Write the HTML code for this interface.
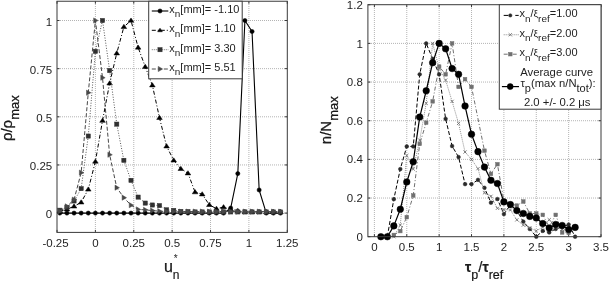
<!DOCTYPE html>
<html><head><meta charset="utf-8"><title>plots</title>
<style>
html,body{margin:0;padding:0;background:#fff;}
body{width:609px;height:281px;overflow:hidden;}
svg{display:block;font-family:"Liberation Sans", sans-serif;will-change:transform;}
text{fill:#1e1e1e;}
</style></head>
<body>
<svg width="609" height="281" viewBox="0 0 609 281">
<rect x="0" y="0" width="609" height="281" fill="#fff"/>
<line x1="95.4" y1="1.24" x2="95.4" y2="232.4" stroke="#b4b4b4" stroke-width="1" stroke-dasharray="1 1" stroke-dashoffset="1.24"/>
<line x1="133.78" y1="1.24" x2="133.78" y2="232.4" stroke="#b4b4b4" stroke-width="1" stroke-dasharray="1 1" stroke-dashoffset="1.24"/>
<line x1="172.15" y1="1.24" x2="172.15" y2="232.4" stroke="#b4b4b4" stroke-width="1" stroke-dasharray="1 1" stroke-dashoffset="1.24"/>
<line x1="210.53" y1="1.24" x2="210.53" y2="232.4" stroke="#b4b4b4" stroke-width="1" stroke-dasharray="1 1" stroke-dashoffset="1.24"/>
<line x1="248.9" y1="1.24" x2="248.9" y2="232.4" stroke="#b4b4b4" stroke-width="1" stroke-dasharray="1 1" stroke-dashoffset="1.24"/>
<line x1="57" y1="213.1" x2="287.3" y2="213.1" stroke="#b4b4b4" stroke-width="1" stroke-dasharray="1 1" stroke-dashoffset="1"/>
<line x1="57" y1="164.95" x2="287.3" y2="164.95" stroke="#b4b4b4" stroke-width="1" stroke-dasharray="1 1" stroke-dashoffset="1"/>
<line x1="57" y1="116.8" x2="287.3" y2="116.8" stroke="#b4b4b4" stroke-width="1" stroke-dasharray="1 1" stroke-dashoffset="1"/>
<line x1="57" y1="68.65" x2="287.3" y2="68.65" stroke="#b4b4b4" stroke-width="1" stroke-dasharray="1 1" stroke-dashoffset="1"/>
<line x1="57" y1="20.5" x2="287.3" y2="20.5" stroke="#b4b4b4" stroke-width="1" stroke-dasharray="1 1" stroke-dashoffset="1"/>
<line x1="57.03" y1="232.4" x2="57.03" y2="229.9" stroke="#3a3a3a" stroke-width="1"/>
<line x1="57.03" y1="1.24" x2="57.03" y2="3.74" stroke="#3a3a3a" stroke-width="1"/>
<line x1="95.4" y1="232.4" x2="95.4" y2="229.9" stroke="#3a3a3a" stroke-width="1"/>
<line x1="95.4" y1="1.24" x2="95.4" y2="3.74" stroke="#3a3a3a" stroke-width="1"/>
<line x1="133.78" y1="232.4" x2="133.78" y2="229.9" stroke="#3a3a3a" stroke-width="1"/>
<line x1="133.78" y1="1.24" x2="133.78" y2="3.74" stroke="#3a3a3a" stroke-width="1"/>
<line x1="172.15" y1="232.4" x2="172.15" y2="229.9" stroke="#3a3a3a" stroke-width="1"/>
<line x1="172.15" y1="1.24" x2="172.15" y2="3.74" stroke="#3a3a3a" stroke-width="1"/>
<line x1="210.53" y1="232.4" x2="210.53" y2="229.9" stroke="#3a3a3a" stroke-width="1"/>
<line x1="210.53" y1="1.24" x2="210.53" y2="3.74" stroke="#3a3a3a" stroke-width="1"/>
<line x1="248.9" y1="232.4" x2="248.9" y2="229.9" stroke="#3a3a3a" stroke-width="1"/>
<line x1="248.9" y1="1.24" x2="248.9" y2="3.74" stroke="#3a3a3a" stroke-width="1"/>
<line x1="287.27" y1="232.4" x2="287.27" y2="229.9" stroke="#3a3a3a" stroke-width="1"/>
<line x1="287.27" y1="1.24" x2="287.27" y2="3.74" stroke="#3a3a3a" stroke-width="1"/>
<line x1="57" y1="213.1" x2="59.5" y2="213.1" stroke="#3a3a3a" stroke-width="1"/>
<line x1="287.3" y1="213.1" x2="284.8" y2="213.1" stroke="#3a3a3a" stroke-width="1"/>
<line x1="57" y1="164.95" x2="59.5" y2="164.95" stroke="#3a3a3a" stroke-width="1"/>
<line x1="287.3" y1="164.95" x2="284.8" y2="164.95" stroke="#3a3a3a" stroke-width="1"/>
<line x1="57" y1="116.8" x2="59.5" y2="116.8" stroke="#3a3a3a" stroke-width="1"/>
<line x1="287.3" y1="116.8" x2="284.8" y2="116.8" stroke="#3a3a3a" stroke-width="1"/>
<line x1="57" y1="68.65" x2="59.5" y2="68.65" stroke="#3a3a3a" stroke-width="1"/>
<line x1="287.3" y1="68.65" x2="284.8" y2="68.65" stroke="#3a3a3a" stroke-width="1"/>
<line x1="57" y1="20.5" x2="59.5" y2="20.5" stroke="#3a3a3a" stroke-width="1"/>
<line x1="287.3" y1="20.5" x2="284.8" y2="20.5" stroke="#3a3a3a" stroke-width="1"/>
<text x="55.53" y="246.9" text-anchor="middle" font-size="11.5">-0.25</text>
<text x="95.4" y="246.9" text-anchor="middle" font-size="11.5">0</text>
<text x="133.78" y="246.9" text-anchor="middle" font-size="11.5">0.25</text>
<text x="172.15" y="246.9" text-anchor="middle" font-size="11.5">0.5</text>
<text x="210.53" y="246.9" text-anchor="middle" font-size="11.5">0.75</text>
<text x="248.9" y="246.9" text-anchor="middle" font-size="11.5">1</text>
<text x="287.27" y="246.9" text-anchor="middle" font-size="11.5">1.25</text>
<text x="52.2" y="218.3" text-anchor="end" font-size="11.5">0</text>
<text x="52.2" y="170.15" text-anchor="end" font-size="11.5">0.25</text>
<text x="52.2" y="122" text-anchor="end" font-size="11.5">0.5</text>
<text x="52.2" y="73.85" text-anchor="end" font-size="11.5">0.75</text>
<text x="52.2" y="25.7" text-anchor="end" font-size="11.5">1</text>
<polyline points="59.8,213.1 66.92,213.1 74.04,213.1 81.16,213.1 88.28,213.1 95.4,213.1 102.52,213.1 109.64,213.1 116.76,213.1 123.88,213.1 131,213.1 138.12,213.1 145.24,213.1 152.36,213.1 159.48,213.1 166.6,213.1 173.72,213.1 180.84,213.1 187.96,213.1 195.08,213.1 202.2,213.1 209.32,213.1 216.44,213.1 223.56,213.1 230.68,208.09 237.8,173.62 244.92,20.5 252.04,31.48 259.16,189.99 266.28,213.1 273.4,213.1 280.52,213.1" fill="none" stroke="#000" stroke-width="1.1" stroke-linejoin="round"/>
<circle cx="59.8" cy="213.1" r="2.1" fill="#000" stroke="#000" stroke-width="0.5"/>
<circle cx="66.92" cy="213.1" r="2.1" fill="#000" stroke="#000" stroke-width="0.5"/>
<circle cx="74.04" cy="213.1" r="2.1" fill="#000" stroke="#000" stroke-width="0.5"/>
<circle cx="81.16" cy="213.1" r="2.1" fill="#000" stroke="#000" stroke-width="0.5"/>
<circle cx="88.28" cy="213.1" r="2.1" fill="#000" stroke="#000" stroke-width="0.5"/>
<circle cx="95.4" cy="213.1" r="2.1" fill="#000" stroke="#000" stroke-width="0.5"/>
<circle cx="102.52" cy="213.1" r="2.1" fill="#000" stroke="#000" stroke-width="0.5"/>
<circle cx="109.64" cy="213.1" r="2.1" fill="#000" stroke="#000" stroke-width="0.5"/>
<circle cx="116.76" cy="213.1" r="2.1" fill="#000" stroke="#000" stroke-width="0.5"/>
<circle cx="123.88" cy="213.1" r="2.1" fill="#000" stroke="#000" stroke-width="0.5"/>
<circle cx="131" cy="213.1" r="2.1" fill="#000" stroke="#000" stroke-width="0.5"/>
<circle cx="138.12" cy="213.1" r="2.1" fill="#000" stroke="#000" stroke-width="0.5"/>
<circle cx="145.24" cy="213.1" r="2.1" fill="#000" stroke="#000" stroke-width="0.5"/>
<circle cx="152.36" cy="213.1" r="2.1" fill="#000" stroke="#000" stroke-width="0.5"/>
<circle cx="159.48" cy="213.1" r="2.1" fill="#000" stroke="#000" stroke-width="0.5"/>
<circle cx="166.6" cy="213.1" r="2.1" fill="#000" stroke="#000" stroke-width="0.5"/>
<circle cx="173.72" cy="213.1" r="2.1" fill="#000" stroke="#000" stroke-width="0.5"/>
<circle cx="180.84" cy="213.1" r="2.1" fill="#000" stroke="#000" stroke-width="0.5"/>
<circle cx="187.96" cy="213.1" r="2.1" fill="#000" stroke="#000" stroke-width="0.5"/>
<circle cx="195.08" cy="213.1" r="2.1" fill="#000" stroke="#000" stroke-width="0.5"/>
<circle cx="202.2" cy="213.1" r="2.1" fill="#000" stroke="#000" stroke-width="0.5"/>
<circle cx="209.32" cy="213.1" r="2.1" fill="#000" stroke="#000" stroke-width="0.5"/>
<circle cx="216.44" cy="213.1" r="2.1" fill="#000" stroke="#000" stroke-width="0.5"/>
<circle cx="223.56" cy="213.1" r="2.1" fill="#000" stroke="#000" stroke-width="0.5"/>
<circle cx="230.68" cy="208.09" r="2.1" fill="#000" stroke="#000" stroke-width="0.5"/>
<circle cx="237.8" cy="173.62" r="2.1" fill="#000" stroke="#000" stroke-width="0.5"/>
<circle cx="244.92" cy="20.5" r="2.1" fill="#000" stroke="#000" stroke-width="0.5"/>
<circle cx="252.04" cy="31.48" r="2.1" fill="#000" stroke="#000" stroke-width="0.5"/>
<circle cx="259.16" cy="189.99" r="2.1" fill="#000" stroke="#000" stroke-width="0.5"/>
<circle cx="266.28" cy="213.1" r="2.1" fill="#000" stroke="#000" stroke-width="0.5"/>
<circle cx="273.4" cy="213.1" r="2.1" fill="#000" stroke="#000" stroke-width="0.5"/>
<circle cx="280.52" cy="213.1" r="2.1" fill="#000" stroke="#000" stroke-width="0.5"/>
<polyline points="59.8,211.17 66.92,209.25 74.04,206.36 81.16,202.31 88.28,189.41 95.4,161.48 102.52,120.65 109.64,83.29 116.76,53.24 123.88,26.86 131,20.5 138.12,47.46 145.24,66.72 152.36,85.21 159.48,117.76 166.6,146.27 173.72,160.33 180.84,168.8 187.96,173.23 195.08,192.11 202.2,194.23 209.32,204.82 216.44,208.67 223.56,207.13 230.68,209.25 237.8,210.79 244.92,211.94 252.04,211.94 259.16,211.94 266.28,211.94 273.4,211.94 280.52,211.94" fill="none" stroke="#000" stroke-width="1" stroke-dasharray="4 2 1 2" stroke-linejoin="round"/>
<path d="M59.8,208.65L62.6,212.85L57,212.85Z" fill="#000" stroke="#000" stroke-width="0.5"/>
<path d="M66.92,206.73L69.72,210.93L64.12,210.93Z" fill="#000" stroke="#000" stroke-width="0.5"/>
<path d="M74.04,203.84L76.84,208.04L71.24,208.04Z" fill="#000" stroke="#000" stroke-width="0.5"/>
<path d="M81.16,199.79L83.96,203.99L78.36,203.99Z" fill="#000" stroke="#000" stroke-width="0.5"/>
<path d="M88.28,186.89L91.08,191.09L85.48,191.09Z" fill="#000" stroke="#000" stroke-width="0.5"/>
<path d="M95.4,158.96L98.2,163.16L92.6,163.16Z" fill="#000" stroke="#000" stroke-width="0.5"/>
<path d="M102.52,118.13L105.32,122.33L99.72,122.33Z" fill="#000" stroke="#000" stroke-width="0.5"/>
<path d="M109.64,80.77L112.44,84.97L106.84,84.97Z" fill="#000" stroke="#000" stroke-width="0.5"/>
<path d="M116.76,50.72L119.56,54.92L113.96,54.92Z" fill="#000" stroke="#000" stroke-width="0.5"/>
<path d="M123.88,24.34L126.68,28.54L121.08,28.54Z" fill="#000" stroke="#000" stroke-width="0.5"/>
<path d="M131,17.98L133.8,22.18L128.2,22.18Z" fill="#000" stroke="#000" stroke-width="0.5"/>
<path d="M138.12,44.94L140.92,49.14L135.32,49.14Z" fill="#000" stroke="#000" stroke-width="0.5"/>
<path d="M145.24,64.2L148.04,68.4L142.44,68.4Z" fill="#000" stroke="#000" stroke-width="0.5"/>
<path d="M152.36,82.69L155.16,86.89L149.56,86.89Z" fill="#000" stroke="#000" stroke-width="0.5"/>
<path d="M159.48,115.24L162.28,119.44L156.68,119.44Z" fill="#000" stroke="#000" stroke-width="0.5"/>
<path d="M166.6,143.75L169.4,147.95L163.8,147.95Z" fill="#000" stroke="#000" stroke-width="0.5"/>
<path d="M173.72,157.81L176.52,162.01L170.92,162.01Z" fill="#000" stroke="#000" stroke-width="0.5"/>
<path d="M180.84,166.28L183.64,170.48L178.04,170.48Z" fill="#000" stroke="#000" stroke-width="0.5"/>
<path d="M187.96,170.71L190.76,174.91L185.16,174.91Z" fill="#000" stroke="#000" stroke-width="0.5"/>
<path d="M195.08,189.59L197.88,193.79L192.28,193.79Z" fill="#000" stroke="#000" stroke-width="0.5"/>
<path d="M202.2,191.71L205,195.91L199.4,195.91Z" fill="#000" stroke="#000" stroke-width="0.5"/>
<path d="M209.32,202.3L212.12,206.5L206.52,206.5Z" fill="#000" stroke="#000" stroke-width="0.5"/>
<path d="M216.44,206.15L219.24,210.35L213.64,210.35Z" fill="#000" stroke="#000" stroke-width="0.5"/>
<path d="M223.56,204.61L226.36,208.81L220.76,208.81Z" fill="#000" stroke="#000" stroke-width="0.5"/>
<path d="M230.68,206.73L233.48,210.93L227.88,210.93Z" fill="#000" stroke="#000" stroke-width="0.5"/>
<path d="M237.8,208.27L240.6,212.47L235,212.47Z" fill="#000" stroke="#000" stroke-width="0.5"/>
<path d="M244.92,209.42L247.72,213.62L242.12,213.62Z" fill="#000" stroke="#000" stroke-width="0.5"/>
<path d="M252.04,209.42L254.84,213.62L249.24,213.62Z" fill="#000" stroke="#000" stroke-width="0.5"/>
<path d="M259.16,209.42L261.96,213.62L256.36,213.62Z" fill="#000" stroke="#000" stroke-width="0.5"/>
<path d="M266.28,209.42L269.08,213.62L263.48,213.62Z" fill="#000" stroke="#000" stroke-width="0.5"/>
<path d="M273.4,209.42L276.2,213.62L270.6,213.62Z" fill="#000" stroke="#000" stroke-width="0.5"/>
<path d="M280.52,209.42L283.32,213.62L277.72,213.62Z" fill="#000" stroke="#000" stroke-width="0.5"/>
<polyline points="59.8,210.21 66.92,207.32 74.04,200.97 81.16,188.64 88.28,136.06 95.4,51.32 102.52,20.5 109.64,70.58 116.76,124.12 123.88,160.33 131,180.36 138.12,197.11 145.24,203.08 152.36,205.01 159.48,205.59 166.6,209.83 173.72,210.4 180.84,211.37 187.96,211.56 195.08,211.94 202.2,211.94 209.32,211.94 216.44,211.94 223.56,211.94 230.68,211.94 237.8,211.94 244.92,211.94 252.04,211.94 259.16,211.94 266.28,211.94 273.4,211.94 280.52,211.94" fill="none" stroke="#555" stroke-width="1" stroke-dasharray="1 1.6" stroke-linejoin="round"/>
<rect x="57.7" y="208.11" width="4.2" height="4.2" fill="#303030" stroke="#303030" stroke-width="0.5"/>
<rect x="64.82" y="205.22" width="4.2" height="4.2" fill="#303030" stroke="#303030" stroke-width="0.5"/>
<rect x="71.94" y="198.87" width="4.2" height="4.2" fill="#303030" stroke="#303030" stroke-width="0.5"/>
<rect x="79.06" y="186.54" width="4.2" height="4.2" fill="#303030" stroke="#303030" stroke-width="0.5"/>
<rect x="86.18" y="133.96" width="4.2" height="4.2" fill="#303030" stroke="#303030" stroke-width="0.5"/>
<rect x="93.3" y="49.22" width="4.2" height="4.2" fill="#303030" stroke="#303030" stroke-width="0.5"/>
<rect x="100.42" y="18.4" width="4.2" height="4.2" fill="#303030" stroke="#303030" stroke-width="0.5"/>
<rect x="107.54" y="68.48" width="4.2" height="4.2" fill="#303030" stroke="#303030" stroke-width="0.5"/>
<rect x="114.66" y="122.02" width="4.2" height="4.2" fill="#303030" stroke="#303030" stroke-width="0.5"/>
<rect x="121.78" y="158.23" width="4.2" height="4.2" fill="#303030" stroke="#303030" stroke-width="0.5"/>
<rect x="128.9" y="178.26" width="4.2" height="4.2" fill="#303030" stroke="#303030" stroke-width="0.5"/>
<rect x="136.02" y="195.01" width="4.2" height="4.2" fill="#303030" stroke="#303030" stroke-width="0.5"/>
<rect x="143.14" y="200.98" width="4.2" height="4.2" fill="#303030" stroke="#303030" stroke-width="0.5"/>
<rect x="150.26" y="202.91" width="4.2" height="4.2" fill="#303030" stroke="#303030" stroke-width="0.5"/>
<rect x="157.38" y="203.49" width="4.2" height="4.2" fill="#303030" stroke="#303030" stroke-width="0.5"/>
<rect x="164.5" y="207.73" width="4.2" height="4.2" fill="#303030" stroke="#303030" stroke-width="0.5"/>
<rect x="171.62" y="208.3" width="4.2" height="4.2" fill="#303030" stroke="#303030" stroke-width="0.5"/>
<rect x="178.74" y="209.27" width="4.2" height="4.2" fill="#303030" stroke="#303030" stroke-width="0.5"/>
<rect x="185.86" y="209.46" width="4.2" height="4.2" fill="#303030" stroke="#303030" stroke-width="0.5"/>
<rect x="192.98" y="209.84" width="4.2" height="4.2" fill="#303030" stroke="#303030" stroke-width="0.5"/>
<rect x="200.1" y="209.84" width="4.2" height="4.2" fill="#303030" stroke="#303030" stroke-width="0.5"/>
<rect x="207.22" y="209.84" width="4.2" height="4.2" fill="#303030" stroke="#303030" stroke-width="0.5"/>
<rect x="214.34" y="209.84" width="4.2" height="4.2" fill="#303030" stroke="#303030" stroke-width="0.5"/>
<rect x="221.46" y="209.84" width="4.2" height="4.2" fill="#303030" stroke="#303030" stroke-width="0.5"/>
<rect x="228.58" y="209.84" width="4.2" height="4.2" fill="#303030" stroke="#303030" stroke-width="0.5"/>
<rect x="235.7" y="209.84" width="4.2" height="4.2" fill="#303030" stroke="#303030" stroke-width="0.5"/>
<rect x="242.82" y="209.84" width="4.2" height="4.2" fill="#303030" stroke="#303030" stroke-width="0.5"/>
<rect x="249.94" y="209.84" width="4.2" height="4.2" fill="#303030" stroke="#303030" stroke-width="0.5"/>
<rect x="257.06" y="209.84" width="4.2" height="4.2" fill="#303030" stroke="#303030" stroke-width="0.5"/>
<rect x="264.18" y="209.84" width="4.2" height="4.2" fill="#303030" stroke="#303030" stroke-width="0.5"/>
<rect x="271.3" y="209.84" width="4.2" height="4.2" fill="#303030" stroke="#303030" stroke-width="0.5"/>
<rect x="278.42" y="209.84" width="4.2" height="4.2" fill="#303030" stroke="#303030" stroke-width="0.5"/>
<polyline points="59.8,211.17 66.92,206.36 74.04,199.62 81.16,172.65 88.28,92.72 95.4,20.5 102.52,77.7 109.64,154.74 116.76,187.68 123.88,197.69 131,205.2 138.12,209.44 145.24,209.83 152.36,210.6 159.48,211.17 166.6,211.56 173.72,211.56 180.84,211.56 187.96,211.56 195.08,211.56 202.2,211.56 209.32,211.56 216.44,211.56 223.56,211.56 230.68,211.56 237.8,211.56 244.92,211.56 252.04,211.56 259.16,211.56 266.28,211.56 273.4,211.56 280.52,211.56" fill="none" stroke="#484848" stroke-width="1" stroke-dasharray="4 2" stroke-linejoin="round"/>
<path d="M62.45,211.17L58.03,208.57L58.03,213.77Z" fill="#484848" stroke="#484848" stroke-width="0.5"/>
<path d="M69.57,206.36L65.15,203.76L65.15,208.96Z" fill="#484848" stroke="#484848" stroke-width="0.5"/>
<path d="M76.69,199.62L72.27,197.02L72.27,202.22Z" fill="#484848" stroke="#484848" stroke-width="0.5"/>
<path d="M83.81,172.65L79.39,170.05L79.39,175.25Z" fill="#484848" stroke="#484848" stroke-width="0.5"/>
<path d="M90.93,92.72L86.51,90.12L86.51,95.32Z" fill="#484848" stroke="#484848" stroke-width="0.5"/>
<path d="M98.05,20.5L93.63,17.9L93.63,23.1Z" fill="#484848" stroke="#484848" stroke-width="0.5"/>
<path d="M105.17,77.7L100.75,75.1L100.75,80.3Z" fill="#484848" stroke="#484848" stroke-width="0.5"/>
<path d="M112.29,154.74L107.87,152.14L107.87,157.34Z" fill="#484848" stroke="#484848" stroke-width="0.5"/>
<path d="M119.41,187.68L114.99,185.08L114.99,190.28Z" fill="#484848" stroke="#484848" stroke-width="0.5"/>
<path d="M126.53,197.69L122.11,195.09L122.11,200.29Z" fill="#484848" stroke="#484848" stroke-width="0.5"/>
<path d="M133.65,205.2L129.23,202.6L129.23,207.8Z" fill="#484848" stroke="#484848" stroke-width="0.5"/>
<path d="M140.77,209.44L136.35,206.84L136.35,212.04Z" fill="#484848" stroke="#484848" stroke-width="0.5"/>
<path d="M147.89,209.83L143.47,207.23L143.47,212.43Z" fill="#484848" stroke="#484848" stroke-width="0.5"/>
<path d="M155.01,210.6L150.59,208L150.59,213.2Z" fill="#484848" stroke="#484848" stroke-width="0.5"/>
<path d="M162.13,211.17L157.71,208.57L157.71,213.77Z" fill="#484848" stroke="#484848" stroke-width="0.5"/>
<path d="M169.25,211.56L164.83,208.96L164.83,214.16Z" fill="#484848" stroke="#484848" stroke-width="0.5"/>
<path d="M176.37,211.56L171.95,208.96L171.95,214.16Z" fill="#484848" stroke="#484848" stroke-width="0.5"/>
<path d="M183.49,211.56L179.07,208.96L179.07,214.16Z" fill="#484848" stroke="#484848" stroke-width="0.5"/>
<path d="M190.61,211.56L186.19,208.96L186.19,214.16Z" fill="#484848" stroke="#484848" stroke-width="0.5"/>
<path d="M197.73,211.56L193.31,208.96L193.31,214.16Z" fill="#484848" stroke="#484848" stroke-width="0.5"/>
<path d="M204.85,211.56L200.43,208.96L200.43,214.16Z" fill="#484848" stroke="#484848" stroke-width="0.5"/>
<path d="M211.97,211.56L207.55,208.96L207.55,214.16Z" fill="#484848" stroke="#484848" stroke-width="0.5"/>
<path d="M219.09,211.56L214.67,208.96L214.67,214.16Z" fill="#484848" stroke="#484848" stroke-width="0.5"/>
<path d="M226.21,211.56L221.79,208.96L221.79,214.16Z" fill="#484848" stroke="#484848" stroke-width="0.5"/>
<path d="M233.33,211.56L228.91,208.96L228.91,214.16Z" fill="#484848" stroke="#484848" stroke-width="0.5"/>
<path d="M240.45,211.56L236.03,208.96L236.03,214.16Z" fill="#484848" stroke="#484848" stroke-width="0.5"/>
<path d="M247.57,211.56L243.15,208.96L243.15,214.16Z" fill="#484848" stroke="#484848" stroke-width="0.5"/>
<path d="M254.69,211.56L250.27,208.96L250.27,214.16Z" fill="#484848" stroke="#484848" stroke-width="0.5"/>
<path d="M261.81,211.56L257.39,208.96L257.39,214.16Z" fill="#484848" stroke="#484848" stroke-width="0.5"/>
<path d="M268.93,211.56L264.51,208.96L264.51,214.16Z" fill="#484848" stroke="#484848" stroke-width="0.5"/>
<path d="M276.05,211.56L271.63,208.96L271.63,214.16Z" fill="#484848" stroke="#484848" stroke-width="0.5"/>
<path d="M283.17,211.56L278.75,208.96L278.75,214.16Z" fill="#484848" stroke="#484848" stroke-width="0.5"/>
<rect x="57" y="1.24" width="230.3" height="231.16" fill="none" stroke="#3a3a3a" stroke-width="1"/>
<rect x="148.7" y="1.24" width="93.5" height="77.56" fill="#fff" stroke="#3a3a3a" stroke-width="1"/>
<polyline points="151.8,11 168.3,11" fill="none" stroke="#000" stroke-width="1.1" stroke-linejoin="round"/>
<circle cx="160" cy="11" r="2.1" fill="#000" stroke="#000" stroke-width="0.5"/>
<g transform="translate(169.3,0) scale(1.06,1)"><text x="0" y="13.2" font-size="10.4">x<tspan font-size="9.4" dy="4.3">n</tspan><tspan dy="-4.3">[mm]= -1.10</tspan></text></g>
<polyline points="151.8,30.3 168.3,30.3" fill="none" stroke="#000" stroke-width="1" stroke-dasharray="4 2 1 2" stroke-linejoin="round"/>
<path d="M160,28.14L162.4,31.74L157.6,31.74Z" fill="#000" stroke="#000" stroke-width="0.5"/>
<g transform="translate(169.3,0) scale(1.06,1)"><text x="0" y="32.5" font-size="10.4">x<tspan font-size="9.4" dy="4.3">n</tspan><tspan dy="-4.3">[mm]= 1.10</tspan></text></g>
<polyline points="151.8,49.7 168.3,49.7" fill="none" stroke="#777" stroke-width="1" stroke-dasharray="1 1" stroke-linejoin="round"/>
<rect x="157.9" y="47.6" width="4.2" height="4.2" fill="#303030" stroke="#303030" stroke-width="0.5"/>
<g transform="translate(169.3,0) scale(1.06,1)"><text x="0" y="51.9" font-size="10.4">x<tspan font-size="9.4" dy="4.3">n</tspan><tspan dy="-4.3">[mm]= 3.30</tspan></text></g>
<polyline points="151.8,69 168.3,69" fill="none" stroke="#484848" stroke-width="1" stroke-dasharray="4 2" stroke-linejoin="round"/>
<path d="M162.65,69L158.23,66.4L158.23,71.6Z" fill="#484848" stroke="#484848" stroke-width="0.5"/>
<g transform="translate(169.3,0) scale(1.06,1)"><text x="0" y="71.2" font-size="10.4">x<tspan font-size="9.4" dy="4.3">n</tspan><tspan dy="-4.3">[mm]= 5.51</tspan></text></g>
<text transform="translate(11.8,118.2) rotate(-90)" text-anchor="middle" font-size="15" stroke="#000" stroke-width="0.25">&#961;/&#961;<tspan font-size="13" dy="7">max</tspan></text>
<text x="163.9" y="271.6" font-size="16" stroke="#000" stroke-width="0.25">u<tspan font-size="12" stroke-width="0.15" dy="7.3">n</tspan><tspan font-size="10" stroke-width="0" dx="-5.8" dy="-17">*</tspan></text>
<line x1="374.4" y1="4.7" x2="374.4" y2="236.7" stroke="#b4b4b4" stroke-width="1" stroke-dasharray="1 1" stroke-dashoffset="0.7"/>
<line x1="406.77" y1="4.7" x2="406.77" y2="236.7" stroke="#b4b4b4" stroke-width="1" stroke-dasharray="1 1" stroke-dashoffset="0.7"/>
<line x1="439.15" y1="4.7" x2="439.15" y2="236.7" stroke="#b4b4b4" stroke-width="1" stroke-dasharray="1 1" stroke-dashoffset="0.7"/>
<line x1="471.52" y1="4.7" x2="471.52" y2="236.7" stroke="#b4b4b4" stroke-width="1" stroke-dasharray="1 1" stroke-dashoffset="0.7"/>
<line x1="503.9" y1="4.7" x2="503.9" y2="236.7" stroke="#b4b4b4" stroke-width="1" stroke-dasharray="1 1" stroke-dashoffset="0.7"/>
<line x1="536.27" y1="4.7" x2="536.27" y2="236.7" stroke="#b4b4b4" stroke-width="1" stroke-dasharray="1 1" stroke-dashoffset="0.7"/>
<line x1="568.65" y1="4.7" x2="568.65" y2="236.7" stroke="#b4b4b4" stroke-width="1" stroke-dasharray="1 1" stroke-dashoffset="0.7"/>
<line x1="367.9" y1="198.04" x2="601" y2="198.04" stroke="#b4b4b4" stroke-width="1" stroke-dasharray="1 1" stroke-dashoffset="0.9"/>
<line x1="367.9" y1="159.38" x2="601" y2="159.38" stroke="#b4b4b4" stroke-width="1" stroke-dasharray="1 1" stroke-dashoffset="0.9"/>
<line x1="367.9" y1="120.72" x2="601" y2="120.72" stroke="#b4b4b4" stroke-width="1" stroke-dasharray="1 1" stroke-dashoffset="0.9"/>
<line x1="367.9" y1="82.06" x2="601" y2="82.06" stroke="#b4b4b4" stroke-width="1" stroke-dasharray="1 1" stroke-dashoffset="0.9"/>
<line x1="367.9" y1="43.4" x2="601" y2="43.4" stroke="#b4b4b4" stroke-width="1" stroke-dasharray="1 1" stroke-dashoffset="0.9"/>
<line x1="374.4" y1="236.7" x2="374.4" y2="234.2" stroke="#3a3a3a" stroke-width="1"/>
<line x1="374.4" y1="4.7" x2="374.4" y2="7.2" stroke="#3a3a3a" stroke-width="1"/>
<line x1="406.77" y1="236.7" x2="406.77" y2="234.2" stroke="#3a3a3a" stroke-width="1"/>
<line x1="406.77" y1="4.7" x2="406.77" y2="7.2" stroke="#3a3a3a" stroke-width="1"/>
<line x1="439.15" y1="236.7" x2="439.15" y2="234.2" stroke="#3a3a3a" stroke-width="1"/>
<line x1="439.15" y1="4.7" x2="439.15" y2="7.2" stroke="#3a3a3a" stroke-width="1"/>
<line x1="471.52" y1="236.7" x2="471.52" y2="234.2" stroke="#3a3a3a" stroke-width="1"/>
<line x1="471.52" y1="4.7" x2="471.52" y2="7.2" stroke="#3a3a3a" stroke-width="1"/>
<line x1="503.9" y1="236.7" x2="503.9" y2="234.2" stroke="#3a3a3a" stroke-width="1"/>
<line x1="503.9" y1="4.7" x2="503.9" y2="7.2" stroke="#3a3a3a" stroke-width="1"/>
<line x1="536.27" y1="236.7" x2="536.27" y2="234.2" stroke="#3a3a3a" stroke-width="1"/>
<line x1="536.27" y1="4.7" x2="536.27" y2="7.2" stroke="#3a3a3a" stroke-width="1"/>
<line x1="568.65" y1="236.7" x2="568.65" y2="234.2" stroke="#3a3a3a" stroke-width="1"/>
<line x1="568.65" y1="4.7" x2="568.65" y2="7.2" stroke="#3a3a3a" stroke-width="1"/>
<line x1="601.02" y1="236.7" x2="601.02" y2="234.2" stroke="#3a3a3a" stroke-width="1"/>
<line x1="601.02" y1="4.7" x2="601.02" y2="7.2" stroke="#3a3a3a" stroke-width="1"/>
<line x1="367.9" y1="236.7" x2="370.4" y2="236.7" stroke="#3a3a3a" stroke-width="1"/>
<line x1="601" y1="236.7" x2="598.5" y2="236.7" stroke="#3a3a3a" stroke-width="1"/>
<line x1="367.9" y1="198.04" x2="370.4" y2="198.04" stroke="#3a3a3a" stroke-width="1"/>
<line x1="601" y1="198.04" x2="598.5" y2="198.04" stroke="#3a3a3a" stroke-width="1"/>
<line x1="367.9" y1="159.38" x2="370.4" y2="159.38" stroke="#3a3a3a" stroke-width="1"/>
<line x1="601" y1="159.38" x2="598.5" y2="159.38" stroke="#3a3a3a" stroke-width="1"/>
<line x1="367.9" y1="120.72" x2="370.4" y2="120.72" stroke="#3a3a3a" stroke-width="1"/>
<line x1="601" y1="120.72" x2="598.5" y2="120.72" stroke="#3a3a3a" stroke-width="1"/>
<line x1="367.9" y1="82.06" x2="370.4" y2="82.06" stroke="#3a3a3a" stroke-width="1"/>
<line x1="601" y1="82.06" x2="598.5" y2="82.06" stroke="#3a3a3a" stroke-width="1"/>
<line x1="367.9" y1="43.4" x2="370.4" y2="43.4" stroke="#3a3a3a" stroke-width="1"/>
<line x1="601" y1="43.4" x2="598.5" y2="43.4" stroke="#3a3a3a" stroke-width="1"/>
<line x1="367.9" y1="4.74" x2="370.4" y2="4.74" stroke="#3a3a3a" stroke-width="1"/>
<line x1="601" y1="4.74" x2="598.5" y2="4.74" stroke="#3a3a3a" stroke-width="1"/>
<text x="374.4" y="251.1" text-anchor="middle" font-size="11.5">0</text>
<text x="406.77" y="251.1" text-anchor="middle" font-size="11.5">0.5</text>
<text x="439.15" y="251.1" text-anchor="middle" font-size="11.5">1</text>
<text x="471.52" y="251.1" text-anchor="middle" font-size="11.5">1.5</text>
<text x="503.9" y="251.1" text-anchor="middle" font-size="11.5">2</text>
<text x="536.27" y="251.1" text-anchor="middle" font-size="11.5">2.5</text>
<text x="568.65" y="251.1" text-anchor="middle" font-size="11.5">3</text>
<text x="601.02" y="251.1" text-anchor="middle" font-size="11.5">3.5</text>
<text x="362.8" y="240.8" text-anchor="end" font-size="11.5">0</text>
<text x="362.8" y="202.14" text-anchor="end" font-size="11.5">0.2</text>
<text x="362.8" y="163.48" text-anchor="end" font-size="11.5">0.4</text>
<text x="362.8" y="124.82" text-anchor="end" font-size="11.5">0.6</text>
<text x="362.8" y="86.16" text-anchor="end" font-size="11.5">0.8</text>
<text x="362.8" y="47.5" text-anchor="end" font-size="11.5">1</text>
<text x="362.8" y="8.84" text-anchor="end" font-size="11.5">1.2</text>
<polyline points="387.35,236.7 393.82,199.2 400.3,169.04 406.77,146.43 413.25,146.43 419.72,74.33 426.2,43.4 432.67,58.86 439.15,74.33 445.62,118.79 452.1,146.04 458.57,157.06 465.05,184.12 471.52,184.12 478,179.87 484.47,187.8 490.95,202.68 497.42,199.01 503.9,214.08 510.38,204.81 516.85,210.6 523.32,221.62 529.8,228.97 536.27,236.7 542.75,230.9 549.23,232.45 555.7,228.97 562.17,227.03 568.65,224.52 575.12,236.7" fill="none" stroke="#000" stroke-width="1" stroke-dasharray="4 2" stroke-linejoin="round"/>
<circle cx="387.35" cy="236.7" r="1.85" fill="#2a2a2a" stroke="#2a2a2a" stroke-width="0.5"/>
<circle cx="393.82" cy="199.2" r="1.85" fill="#2a2a2a" stroke="#2a2a2a" stroke-width="0.5"/>
<circle cx="400.3" cy="169.04" r="1.85" fill="#2a2a2a" stroke="#2a2a2a" stroke-width="0.5"/>
<circle cx="406.77" cy="146.43" r="1.85" fill="#2a2a2a" stroke="#2a2a2a" stroke-width="0.5"/>
<circle cx="413.25" cy="146.43" r="1.85" fill="#2a2a2a" stroke="#2a2a2a" stroke-width="0.5"/>
<circle cx="419.72" cy="74.33" r="1.85" fill="#2a2a2a" stroke="#2a2a2a" stroke-width="0.5"/>
<circle cx="426.2" cy="43.4" r="1.85" fill="#2a2a2a" stroke="#2a2a2a" stroke-width="0.5"/>
<circle cx="432.67" cy="58.86" r="1.85" fill="#2a2a2a" stroke="#2a2a2a" stroke-width="0.5"/>
<circle cx="439.15" cy="74.33" r="1.85" fill="#2a2a2a" stroke="#2a2a2a" stroke-width="0.5"/>
<circle cx="445.62" cy="118.79" r="1.85" fill="#2a2a2a" stroke="#2a2a2a" stroke-width="0.5"/>
<circle cx="452.1" cy="146.04" r="1.85" fill="#2a2a2a" stroke="#2a2a2a" stroke-width="0.5"/>
<circle cx="458.57" cy="157.06" r="1.85" fill="#2a2a2a" stroke="#2a2a2a" stroke-width="0.5"/>
<circle cx="465.05" cy="184.12" r="1.85" fill="#2a2a2a" stroke="#2a2a2a" stroke-width="0.5"/>
<circle cx="471.52" cy="184.12" r="1.85" fill="#2a2a2a" stroke="#2a2a2a" stroke-width="0.5"/>
<circle cx="478" cy="179.87" r="1.85" fill="#2a2a2a" stroke="#2a2a2a" stroke-width="0.5"/>
<circle cx="484.47" cy="187.8" r="1.85" fill="#2a2a2a" stroke="#2a2a2a" stroke-width="0.5"/>
<circle cx="490.95" cy="202.68" r="1.85" fill="#2a2a2a" stroke="#2a2a2a" stroke-width="0.5"/>
<circle cx="497.42" cy="199.01" r="1.85" fill="#2a2a2a" stroke="#2a2a2a" stroke-width="0.5"/>
<circle cx="503.9" cy="214.08" r="1.85" fill="#2a2a2a" stroke="#2a2a2a" stroke-width="0.5"/>
<circle cx="510.38" cy="204.81" r="1.85" fill="#2a2a2a" stroke="#2a2a2a" stroke-width="0.5"/>
<circle cx="516.85" cy="210.6" r="1.85" fill="#2a2a2a" stroke="#2a2a2a" stroke-width="0.5"/>
<circle cx="523.32" cy="221.62" r="1.85" fill="#2a2a2a" stroke="#2a2a2a" stroke-width="0.5"/>
<circle cx="529.8" cy="228.97" r="1.85" fill="#2a2a2a" stroke="#2a2a2a" stroke-width="0.5"/>
<circle cx="536.27" cy="236.7" r="1.85" fill="#2a2a2a" stroke="#2a2a2a" stroke-width="0.5"/>
<circle cx="542.75" cy="230.9" r="1.85" fill="#2a2a2a" stroke="#2a2a2a" stroke-width="0.5"/>
<circle cx="549.23" cy="232.45" r="1.85" fill="#2a2a2a" stroke="#2a2a2a" stroke-width="0.5"/>
<circle cx="555.7" cy="228.97" r="1.85" fill="#2a2a2a" stroke="#2a2a2a" stroke-width="0.5"/>
<circle cx="562.17" cy="227.03" r="1.85" fill="#2a2a2a" stroke="#2a2a2a" stroke-width="0.5"/>
<circle cx="568.65" cy="224.52" r="1.85" fill="#2a2a2a" stroke="#2a2a2a" stroke-width="0.5"/>
<circle cx="575.12" cy="236.7" r="1.85" fill="#2a2a2a" stroke="#2a2a2a" stroke-width="0.5"/>
<polyline points="387.35,236.7 393.82,236.7 400.3,225.1 406.77,155.51 413.25,169.04 419.72,140.05 426.2,103.32 432.67,43.4 439.15,68.53 445.62,80.13 452.1,101.39 458.57,123.43 465.05,152.03 471.52,159.38 478,168.66 484.47,192.82 490.95,196.3 497.42,208.28 503.9,209.64 510.38,210.02 516.85,219.88 523.32,225.1 529.8,227.81 536.27,230.9 542.75,227.03 549.23,219.69 555.7,227.03 562.17,228.97 568.65,230.9" fill="none" stroke="#909090" stroke-width="1" stroke-dasharray="1 1" stroke-linejoin="round"/>
<path d="M385.75,235.1L388.95,238.3M385.75,238.3L388.95,235.1" stroke="#707070" stroke-width="0.9" fill="none"/>
<path d="M392.22,235.1L395.43,238.3M392.22,238.3L395.43,235.1" stroke="#707070" stroke-width="0.9" fill="none"/>
<path d="M398.7,223.5L401.9,226.7M398.7,226.7L401.9,223.5" stroke="#707070" stroke-width="0.9" fill="none"/>
<path d="M405.17,153.91L408.38,157.11M405.17,157.11L408.38,153.91" stroke="#707070" stroke-width="0.9" fill="none"/>
<path d="M411.65,167.44L414.85,170.64M411.65,170.64L414.85,167.44" stroke="#707070" stroke-width="0.9" fill="none"/>
<path d="M418.12,138.45L421.32,141.65M418.12,141.65L421.32,138.45" stroke="#707070" stroke-width="0.9" fill="none"/>
<path d="M424.6,101.72L427.8,104.92M424.6,104.92L427.8,101.72" stroke="#707070" stroke-width="0.9" fill="none"/>
<path d="M431.07,41.8L434.27,45M431.07,45L434.27,41.8" stroke="#707070" stroke-width="0.9" fill="none"/>
<path d="M437.55,66.93L440.75,70.13M437.55,70.13L440.75,66.93" stroke="#707070" stroke-width="0.9" fill="none"/>
<path d="M444.02,78.53L447.23,81.73M444.02,81.73L447.23,78.53" stroke="#707070" stroke-width="0.9" fill="none"/>
<path d="M450.5,99.79L453.7,102.99M450.5,102.99L453.7,99.79" stroke="#707070" stroke-width="0.9" fill="none"/>
<path d="M456.97,121.83L460.18,125.03M456.97,125.03L460.18,121.83" stroke="#707070" stroke-width="0.9" fill="none"/>
<path d="M463.45,150.43L466.65,153.63M463.45,153.63L466.65,150.43" stroke="#707070" stroke-width="0.9" fill="none"/>
<path d="M469.92,157.78L473.12,160.98M469.92,160.98L473.12,157.78" stroke="#707070" stroke-width="0.9" fill="none"/>
<path d="M476.4,167.06L479.6,170.26M476.4,170.26L479.6,167.06" stroke="#707070" stroke-width="0.9" fill="none"/>
<path d="M482.87,191.22L486.07,194.42M482.87,194.42L486.07,191.22" stroke="#707070" stroke-width="0.9" fill="none"/>
<path d="M489.35,194.7L492.55,197.9M489.35,197.9L492.55,194.7" stroke="#707070" stroke-width="0.9" fill="none"/>
<path d="M495.82,206.68L499.02,209.88M495.82,209.88L499.02,206.68" stroke="#707070" stroke-width="0.9" fill="none"/>
<path d="M502.3,208.04L505.5,211.24M502.3,211.24L505.5,208.04" stroke="#707070" stroke-width="0.9" fill="none"/>
<path d="M508.77,208.42L511.98,211.62M508.77,211.62L511.98,208.42" stroke="#707070" stroke-width="0.9" fill="none"/>
<path d="M515.25,218.28L518.45,221.48M515.25,221.48L518.45,218.28" stroke="#707070" stroke-width="0.9" fill="none"/>
<path d="M521.72,223.5L524.92,226.7M521.72,226.7L524.92,223.5" stroke="#707070" stroke-width="0.9" fill="none"/>
<path d="M528.2,226.21L531.4,229.41M528.2,229.41L531.4,226.21" stroke="#707070" stroke-width="0.9" fill="none"/>
<path d="M534.67,229.3L537.88,232.5M534.67,232.5L537.88,229.3" stroke="#707070" stroke-width="0.9" fill="none"/>
<path d="M541.15,225.44L544.35,228.63M541.15,228.63L544.35,225.44" stroke="#707070" stroke-width="0.9" fill="none"/>
<path d="M547.62,218.09L550.83,221.29M547.62,221.29L550.83,218.09" stroke="#707070" stroke-width="0.9" fill="none"/>
<path d="M554.1,225.44L557.3,228.63M554.1,228.63L557.3,225.44" stroke="#707070" stroke-width="0.9" fill="none"/>
<path d="M560.57,227.37L563.77,230.57M560.57,230.57L563.77,227.37" stroke="#707070" stroke-width="0.9" fill="none"/>
<path d="M567.05,229.3L570.25,232.5M567.05,232.5L570.25,229.3" stroke="#707070" stroke-width="0.9" fill="none"/>
<polyline points="393.82,234.96 400.3,231.09 406.77,217.18 413.25,195.53 419.72,143.92 426.2,122.65 432.67,101.39 439.15,66.6 445.62,74.33 452.1,43.4 458.57,86.89 465.05,79.16 471.52,86.89 484.47,150.68 490.95,173.88 497.42,164.21 503.9,200.94 510.38,203.84 516.85,205.58 523.32,201.52 529.8,213.5 536.27,213.5 542.75,214.86 549.23,227.03 555.7,214.86 562.17,232.45 568.65,232.83" fill="none" stroke="#707070" stroke-width="1" stroke-dasharray="4 2 1 2" stroke-linejoin="round"/>
<rect x="392.02" y="233.16" width="3.6" height="3.6" fill="#707070" stroke="#707070" stroke-width="0.5"/>
<rect x="398.5" y="229.29" width="3.6" height="3.6" fill="#707070" stroke="#707070" stroke-width="0.5"/>
<rect x="404.97" y="215.38" width="3.6" height="3.6" fill="#707070" stroke="#707070" stroke-width="0.5"/>
<rect x="411.45" y="193.73" width="3.6" height="3.6" fill="#707070" stroke="#707070" stroke-width="0.5"/>
<rect x="417.92" y="142.12" width="3.6" height="3.6" fill="#707070" stroke="#707070" stroke-width="0.5"/>
<rect x="424.4" y="120.85" width="3.6" height="3.6" fill="#707070" stroke="#707070" stroke-width="0.5"/>
<rect x="430.87" y="99.59" width="3.6" height="3.6" fill="#707070" stroke="#707070" stroke-width="0.5"/>
<rect x="437.35" y="64.8" width="3.6" height="3.6" fill="#707070" stroke="#707070" stroke-width="0.5"/>
<rect x="443.82" y="72.53" width="3.6" height="3.6" fill="#707070" stroke="#707070" stroke-width="0.5"/>
<rect x="450.3" y="41.6" width="3.6" height="3.6" fill="#707070" stroke="#707070" stroke-width="0.5"/>
<rect x="456.77" y="85.09" width="3.6" height="3.6" fill="#707070" stroke="#707070" stroke-width="0.5"/>
<rect x="463.25" y="77.36" width="3.6" height="3.6" fill="#707070" stroke="#707070" stroke-width="0.5"/>
<rect x="469.72" y="85.09" width="3.6" height="3.6" fill="#707070" stroke="#707070" stroke-width="0.5"/>
<rect x="482.67" y="148.88" width="3.6" height="3.6" fill="#707070" stroke="#707070" stroke-width="0.5"/>
<rect x="489.15" y="172.08" width="3.6" height="3.6" fill="#707070" stroke="#707070" stroke-width="0.5"/>
<rect x="495.62" y="162.41" width="3.6" height="3.6" fill="#707070" stroke="#707070" stroke-width="0.5"/>
<rect x="502.1" y="199.14" width="3.6" height="3.6" fill="#707070" stroke="#707070" stroke-width="0.5"/>
<rect x="508.57" y="202.04" width="3.6" height="3.6" fill="#707070" stroke="#707070" stroke-width="0.5"/>
<rect x="515.05" y="203.78" width="3.6" height="3.6" fill="#707070" stroke="#707070" stroke-width="0.5"/>
<rect x="521.52" y="199.72" width="3.6" height="3.6" fill="#707070" stroke="#707070" stroke-width="0.5"/>
<rect x="528" y="211.7" width="3.6" height="3.6" fill="#707070" stroke="#707070" stroke-width="0.5"/>
<rect x="534.48" y="211.7" width="3.6" height="3.6" fill="#707070" stroke="#707070" stroke-width="0.5"/>
<rect x="540.95" y="213.06" width="3.6" height="3.6" fill="#707070" stroke="#707070" stroke-width="0.5"/>
<rect x="547.43" y="225.23" width="3.6" height="3.6" fill="#707070" stroke="#707070" stroke-width="0.5"/>
<rect x="553.9" y="213.06" width="3.6" height="3.6" fill="#707070" stroke="#707070" stroke-width="0.5"/>
<rect x="560.38" y="230.65" width="3.6" height="3.6" fill="#707070" stroke="#707070" stroke-width="0.5"/>
<rect x="566.85" y="231.03" width="3.6" height="3.6" fill="#707070" stroke="#707070" stroke-width="0.5"/>
<polyline points="380.88,236.7 387.35,236.7 393.82,225.88 400.3,209.25 406.77,182 413.25,161.7 419.72,117.05 426.2,90.76 432.67,62.73 439.15,43.4 445.62,48.81 452.1,68.53 458.57,74.33 465.05,106.03 471.52,134.25 478,151.65 484.47,167.11 490.95,180.26 497.42,183.54 503.9,201.91 510.38,204.61 516.85,210.6 523.32,213.5 529.8,216.4 536.27,217.95 542.75,223.56 549.23,228 555.7,224.52 562.17,225.49 568.65,229.55 575.12,227.42" fill="none" stroke="#000" stroke-width="1.2" stroke-linejoin="round"/>
<circle cx="380.88" cy="236.7" r="3.3" fill="#000" stroke="#000" stroke-width="0.5"/>
<circle cx="387.35" cy="236.7" r="3.3" fill="#000" stroke="#000" stroke-width="0.5"/>
<circle cx="393.82" cy="225.88" r="3.3" fill="#000" stroke="#000" stroke-width="0.5"/>
<circle cx="400.3" cy="209.25" r="3.3" fill="#000" stroke="#000" stroke-width="0.5"/>
<circle cx="406.77" cy="182" r="3.3" fill="#000" stroke="#000" stroke-width="0.5"/>
<circle cx="413.25" cy="161.7" r="3.3" fill="#000" stroke="#000" stroke-width="0.5"/>
<circle cx="419.72" cy="117.05" r="3.3" fill="#000" stroke="#000" stroke-width="0.5"/>
<circle cx="426.2" cy="90.76" r="3.3" fill="#000" stroke="#000" stroke-width="0.5"/>
<circle cx="432.67" cy="62.73" r="3.3" fill="#000" stroke="#000" stroke-width="0.5"/>
<circle cx="439.15" cy="43.4" r="3.3" fill="#000" stroke="#000" stroke-width="0.5"/>
<circle cx="445.62" cy="48.81" r="3.3" fill="#000" stroke="#000" stroke-width="0.5"/>
<circle cx="452.1" cy="68.53" r="3.3" fill="#000" stroke="#000" stroke-width="0.5"/>
<circle cx="458.57" cy="74.33" r="3.3" fill="#000" stroke="#000" stroke-width="0.5"/>
<circle cx="465.05" cy="106.03" r="3.3" fill="#000" stroke="#000" stroke-width="0.5"/>
<circle cx="471.52" cy="134.25" r="3.3" fill="#000" stroke="#000" stroke-width="0.5"/>
<circle cx="478" cy="151.65" r="3.3" fill="#000" stroke="#000" stroke-width="0.5"/>
<circle cx="484.47" cy="167.11" r="3.3" fill="#000" stroke="#000" stroke-width="0.5"/>
<circle cx="490.95" cy="180.26" r="3.3" fill="#000" stroke="#000" stroke-width="0.5"/>
<circle cx="497.42" cy="183.54" r="3.3" fill="#000" stroke="#000" stroke-width="0.5"/>
<circle cx="503.9" cy="201.91" r="3.3" fill="#000" stroke="#000" stroke-width="0.5"/>
<circle cx="510.38" cy="204.61" r="3.3" fill="#000" stroke="#000" stroke-width="0.5"/>
<circle cx="516.85" cy="210.6" r="3.3" fill="#000" stroke="#000" stroke-width="0.5"/>
<circle cx="523.32" cy="213.5" r="3.3" fill="#000" stroke="#000" stroke-width="0.5"/>
<circle cx="529.8" cy="216.4" r="3.3" fill="#000" stroke="#000" stroke-width="0.5"/>
<circle cx="536.27" cy="217.95" r="3.3" fill="#000" stroke="#000" stroke-width="0.5"/>
<circle cx="542.75" cy="223.56" r="3.3" fill="#000" stroke="#000" stroke-width="0.5"/>
<circle cx="549.23" cy="228" r="3.3" fill="#000" stroke="#000" stroke-width="0.5"/>
<circle cx="555.7" cy="224.52" r="3.3" fill="#000" stroke="#000" stroke-width="0.5"/>
<circle cx="562.17" cy="225.49" r="3.3" fill="#000" stroke="#000" stroke-width="0.5"/>
<circle cx="568.65" cy="229.55" r="3.3" fill="#000" stroke="#000" stroke-width="0.5"/>
<circle cx="575.12" cy="227.42" r="3.3" fill="#000" stroke="#000" stroke-width="0.5"/>
<rect x="367.9" y="4.7" width="233.1" height="232" fill="none" stroke="#3a3a3a" stroke-width="1"/>
<rect x="499.3" y="4.7" width="101.7" height="104.5" fill="#fff" stroke="#3a3a3a" stroke-width="1"/>
<polyline points="503.7,15.4 508.2,15.4" fill="none" stroke="#000" stroke-width="1" stroke-linejoin="round"/>
<polyline points="515.3,15.4 518.7,15.4" fill="none" stroke="#000" stroke-width="1" stroke-linejoin="round"/>
<circle cx="510.3" cy="15.4" r="1.7" fill="#2a2a2a" stroke="#2a2a2a" stroke-width="0.5"/>
<g transform="translate(519.4,0) scale(1.06,1)"><text x="0" y="17.5" font-size="10.4">x<tspan font-size="9.4" dy="4.3">n</tspan><tspan dy="-4.3">/</tspan><tspan font-size="9.6">&#958;</tspan><tspan font-size="9.4" dy="4.3">ref</tspan><tspan dy="-4.3">=1.00</tspan></text></g>
<polyline points="503.7,34.75 518.7,34.75" fill="none" stroke="#909090" stroke-width="1" stroke-dasharray="1 1" stroke-linejoin="round"/>
<path d="M508.7,33.15L511.9,36.35M508.7,36.35L511.9,33.15" stroke="#707070" stroke-width="0.9" fill="none"/>
<g transform="translate(519.4,0) scale(1.06,1)"><text x="0" y="36.85" font-size="10.4">x<tspan font-size="9.4" dy="4.3">n</tspan><tspan dy="-4.3">/</tspan><tspan font-size="9.6">&#958;</tspan><tspan font-size="9.4" dy="4.3">ref</tspan><tspan dy="-4.3">=2.00</tspan></text></g>
<polyline points="503.7,54.2 518.7,54.2" fill="none" stroke="#707070" stroke-width="1" stroke-dasharray="4 2 1 2" stroke-linejoin="round"/>
<rect x="508.5" y="52.4" width="3.6" height="3.6" fill="#707070" stroke="#707070" stroke-width="0.5"/>
<g transform="translate(519.4,0) scale(1.06,1)"><text x="0" y="56.3" font-size="10.4">x<tspan font-size="9.4" dy="4.3">n</tspan><tspan dy="-4.3">/</tspan><tspan font-size="9.6">&#958;</tspan><tspan font-size="9.4" dy="4.3">ref</tspan><tspan dy="-4.3">=3.00</tspan></text></g>
<polyline points="501.9,86.6 519,86.6" fill="none" stroke="#000" stroke-width="1.2" stroke-linejoin="round"/>
<circle cx="510.2" cy="86.6" r="3" fill="#000" stroke="#000" stroke-width="0.5"/>
<g transform="translate(556.6,0) scale(1.09,1)"><text x="0" y="76.2" text-anchor="middle" font-size="10.4">Average curve</text></g>
<g transform="translate(558,0) scale(1.08,1)"><text x="0" y="87.3" text-anchor="middle" font-size="10.4">&#964;<tspan font-size="10.2" dy="4.3">p</tspan><tspan dy="-4.3">(max n/N</tspan><tspan font-size="10.2" dy="4.3">tot</tspan><tspan dy="-4.3">):</tspan></text></g>
<g transform="translate(557.2,0) scale(1.09,1)"><text x="0" y="105.6" text-anchor="middle" font-size="10.4">2.0 +/- 0.2 &#956;s</text></g>
<text transform="translate(331,120.2) rotate(-90)" text-anchor="middle" font-size="15" stroke="#000" stroke-width="0.25">n/N<tspan font-size="13" dy="7">max</tspan></text>
<text x="465" y="271.5" font-size="15" stroke="#000" stroke-width="0.2"><tspan font-weight="bold" font-size="14">&#964;</tspan><tspan font-size="12.5" dy="7.5">p</tspan><tspan dy="-7.5">/</tspan><tspan font-weight="bold" font-size="14">&#964;</tspan><tspan font-size="12.5" dy="7.5">ref</tspan></text>
</svg>
</body></html>
